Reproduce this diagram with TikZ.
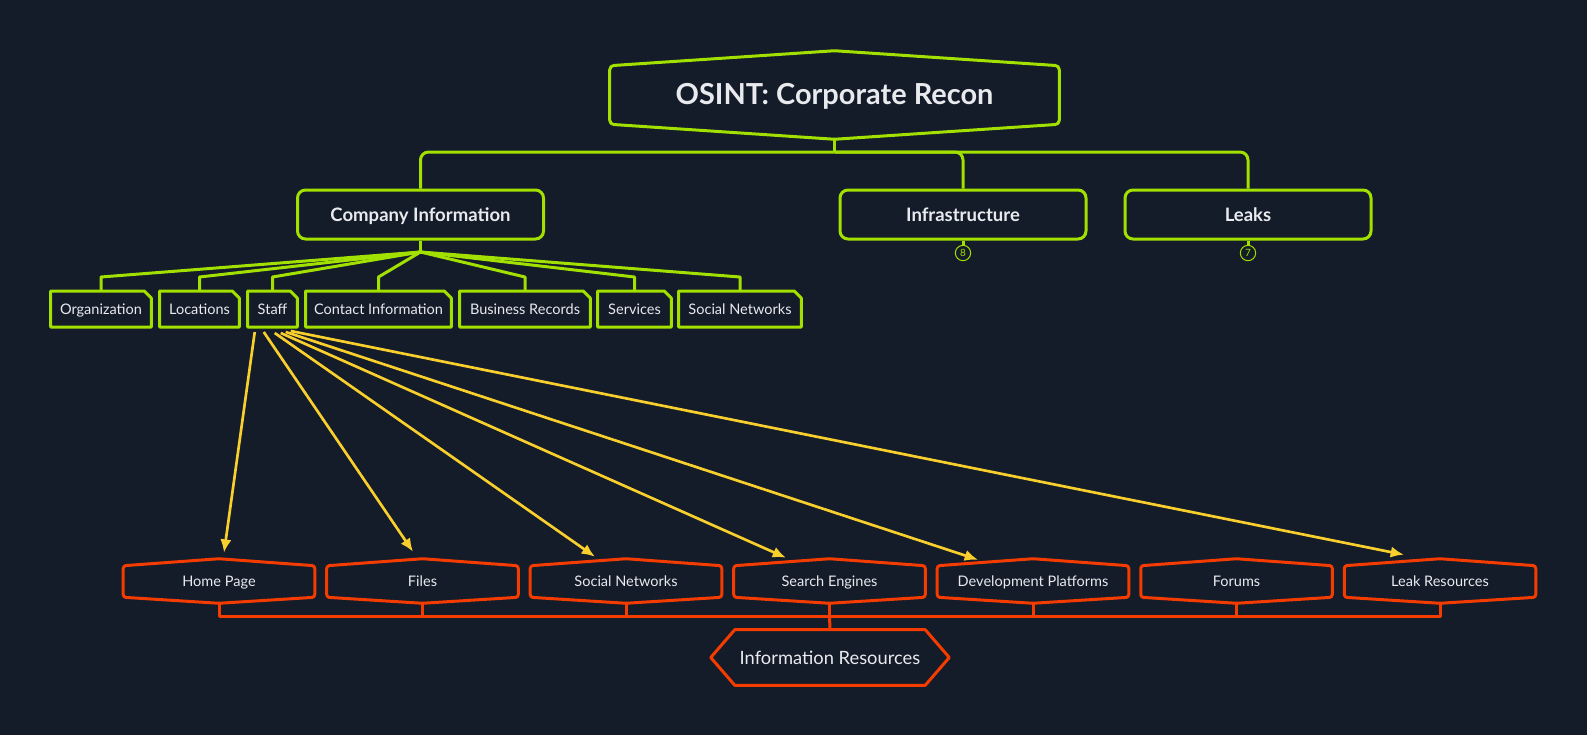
\documentclass[tikz,border=0pt]{standalone}
\usepackage{fontspec}
\setmainfont{Lato}
\usetikzlibrary{arrows.meta,calc}
\definecolor{bg}{HTML}{141B29}
\definecolor{lime}{HTML}{A2E000}
\definecolor{orng}{HTML}{F53C00}
\definecolor{yel}{HTML}{F8CF2C}
\definecolor{txt}{HTML}{E8EAEE}
\begin{document}
\begin{tikzpicture}[x=0.75pt,y=-0.75pt,
  gl/.style={draw=lime, line width=2.25pt, line join=round},
  ol/.style={draw=orng, line width=2.25pt, line join=round},
  arr/.style={draw=yel, line width=2pt, -{Latex[length=10pt,width=8.5pt]}},
  txtnode/.style={text=txt, inner sep=0pt, align=center},
  rootnode/.style={txtnode, minimum width=336.75pt, minimum height=66pt, text height=17pt, text depth=3pt, font=\fontsize{21.7pt}{24pt}\selectfont\bfseries},
  midbox/.style={txtnode, draw=lime, line width=2.25pt, rounded corners=6pt, minimum width=184.5pt, minimum height=36.75pt, text height=12pt, text depth=2pt, font=\fontsize{13.9pt}{16pt}\selectfont\bfseries},
  notebox/.style={txtnode, minimum height=26.6pt, text height=10pt, text depth=1.5pt, font=\fontsize{10.9pt}{13pt}\selectfont},
  hexbox/.style={txtnode, minimum width=143.25pt, minimum height=33pt, text height=10pt, text depth=1.5pt, font=\fontsize{10.9pt}{13pt}\selectfont},
  infobox/.style={txtnode, minimum width=178.5pt, minimum height=41.25pt, text height=12pt, text depth=2pt, font=\fontsize{13.75pt}{16pt}\selectfont},
  circ/.style={circle, draw=lime, line width=0.75pt, minimum size=11.5pt, inner sep=0pt, text=lime, font=\fontsize{7.5pt}{7.5pt}\selectfont}
]
\fill[bg] (0,0) rectangle (1587,735);
\useasboundingbox (0,0) rectangle (1587,735);

% root
\node[rootnode] (root) at (834.5,95) {OSINT: Corporate Recon};
\draw[gl, rounded corners=3pt] ($(root.north west)+(0,15)$) -- (root.north) -- ($(root.north east)+(0,15)$) -- ($(root.south east)+(0,-15)$) -- (root.south) -- ($(root.south west)+(0,-15)$) -- cycle;

% level 1
\node[midbox] (company) at (420.5,214.5) {Company Information};
\node[midbox] (infra) at (963,214.5) {Infrastructure};
\node[midbox] (leaks) at (1248,214.5) {Leaks};
\coordinate (bus1) at (834.5,152);
\draw[gl] (root.south) -- (bus1);
\draw[gl, rounded corners=6pt] (bus1) -| (company.north);
\draw[gl, rounded corners=6pt] (bus1) -| (infra.north);
\draw[gl, rounded corners=6pt] (bus1) -| (leaks.north);

\node[circ] (c8) at (963,253) {8};
\node[circ] (c7) at (1248,253) {7};
\draw[gl] (infra.south) -- (c8.north);
\draw[gl] (leaks.south) -- (c7.north);

% level 2 notes
\node[notebox, minimum width=75pt] (org) at (101,309) {Organization};
\node[notebox, minimum width=59.25pt] (loc) at (199.5,309) {Locations};
\node[notebox, minimum width=36.75pt] (staff) at (272.5,309) {Staff};
\node[notebox, minimum width=108.75pt] (contact) at (378.5,309) {Contact Information};
\node[notebox, minimum width=97.5pt] (biz) at (525,309) {Business Records};
\node[notebox, minimum width=54.75pt] (serv) at (634.5,309) {Services};
\node[notebox, minimum width=91.5pt] (soc) at (740,309) {Social Networks};
\coordinate (fan) at (420.5,252);
\draw[gl] (company.south) -- (fan);
\foreach \n in {org,loc,staff,contact,biz,serv,soc}{
  \draw[gl] (\n.south west) -- (\n.north west) -- ($(\n.north east)+(-7,0)$) -- ($(\n.north east)+(0,7)$) -- (\n.south east) -- cycle;
  \draw[gl] (fan) -- ($(\n.north)+(0,-14)$) -- (\n.north);
}

% bottom resources
\node[hexbox] (home) at (219,581) {Home Page};
\node[hexbox] (files) at (422.5,581) {Files};
\node[hexbox] (socn) at (626,581) {Social Networks};
\node[hexbox] (search) at (829.5,581) {Search Engines};
\node[hexbox] (dev) at (1033,581) {Development Platforms};
\node[hexbox] (forums) at (1236.5,581) {Forums};
\node[hexbox] (leakr) at (1440,581) {Leak Resources};
\foreach \n in {home,files,socn,search,dev,forums,leakr}{
  \draw[ol, rounded corners=2pt] ($(\n.north west)+(0,7)$) -- (\n.north) -- ($(\n.north east)+(0,7)$) -- ($(\n.south east)+(0,-6)$) -- (\n.south) -- ($(\n.south west)+(0,-6)$) -- cycle;
}
\node[infobox] (info) at (830,657.5) {Information Resources};
\draw[ol] (info.west) -- ($(info.north west)+(24,0)$) -- ($(info.north east)+(-24,0)$) -- (info.east) -- ($(info.south east)+(-24,0)$) -- ($(info.south west)+(24,0)$) -- cycle;
\coordinate (bus2) at (829.5,616);
\draw[ol] (home.south) |- (bus2) -| (leakr.south);
\foreach \n in {files,socn,search,dev,forums}{
  \draw[ol] (\n.south) -- (\n.south |- bus2);
}
\draw[ol] (bus2) -- (info.north);

% staff arrows
\draw[arr] ($(staff.south west)+(7,5)$) -- ($(home.north)+(5,-6)$);
\draw[arr] ($(staff.south west)+(16,5)$) -- ($(files.north)+(-9.5,-7)$);
\draw[arr] ($(staff.south west)+(27,6)$) -- ($(socn.north)+(-31,-2)$);
\draw[arr] ($(staff.south west)+(33,6)$) -- ($(search.north)+(-43.5,-1)$);
\draw[arr] ($(staff.south west)+(38,5)$) -- ($(dev.north)+(-55,1)$);
\draw[arr] ($(staff.south west)+(43,4)$) -- ($(leakr.north)+(-36,-4)$);
\end{tikzpicture}
\end{document}
